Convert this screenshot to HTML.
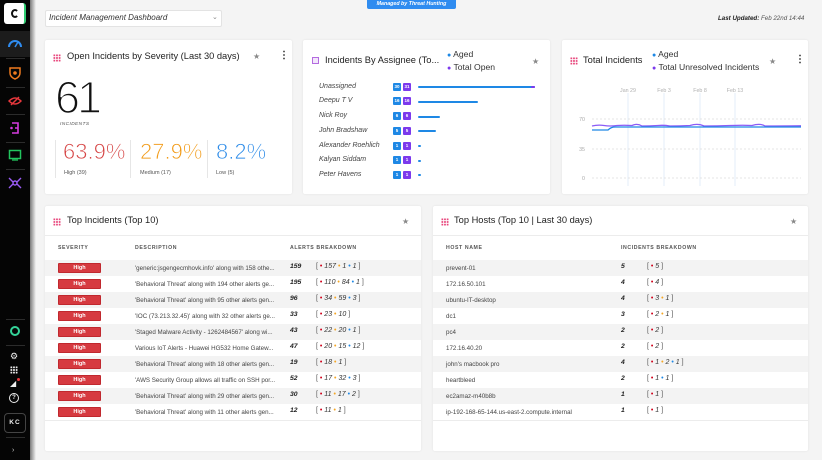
<!DOCTYPE html>
<html><head><meta charset="utf-8">
<style>
*{margin:0;padding:0;box-sizing:border-box}
html,body{width:822px;height:460px;overflow:hidden;background:#f4f4f4;font-family:"Liberation Sans",sans-serif;color:#333}
.a{position:absolute;white-space:nowrap}
.card{position:absolute;background:#fff;border-radius:2px;box-shadow:0 0 2px rgba(0,0,0,0.08)}
.sb{position:absolute;left:0;top:0;width:30px;height:460px;background:#050505}
.sbsh{position:absolute;left:30px;top:0;width:6px;height:460px;background:linear-gradient(to right,#7a7a7a,#f4f4f4)}
.sep{position:absolute;left:6px;width:19px;height:1px;background:#2c2c2c}
.title{font-size:9.3px;color:#222}
.grid{position:absolute;width:8px;height:8px;background-image:radial-gradient(circle,#e8467c 0.9px,transparent 1.1px);background-size:2.67px 2.67px}
.star{font-size:8px;color:#888}
.kebab{font-size:10px;font-weight:bold;color:#222}
.hdr{font-size:5.2px;font-weight:bold;color:#555;letter-spacing:0.6px}
.row{position:absolute;height:16px}
.g{background:#f3f3f3}
.badge{position:absolute;width:43px;height:10px;background:#d63a40;border:1px solid #c0282e;color:#fff;font-size:5.5px;font-weight:bold;text-align:center;line-height:8px;border-radius:1px}
.t{font-size:6.2px;color:#444}
.n{font-size:6.8px;font-weight:bold;font-style:italic;color:#222}
.bk{font-size:7px;font-style:italic;color:#333}
.bk b{font-weight:normal;color:#555;font-style:normal}
.dr,.do,.db{font-size:7px;font-style:normal}
.dr{color:#d0021b}.do{color:#f5a623}.db{color:#1e88e5}
.nm{font-size:7px;font-style:italic;color:#444}
.bb,.bp{position:absolute;width:8px;height:8px;color:#fff;font-size:4.5px;font-weight:bold;text-align:center;line-height:8px;border-radius:1px}
.bb{background:#1e88e5}.bp{background:#7c3aed}
.bar{position:absolute;height:2px;background:#1e88e5;border-radius:1px}
.leg{font-size:8.6px;color:#333}
.thin{-webkit-text-stroke:1.6px #fff}
.thin2{-webkit-text-stroke:0.7px #fff}
</style></head><body>

<!-- sidebar -->
<div class="sb"></div>
<div class="sbsh"></div>
<div class="a" style="left:4px;top:3px;width:22px;height:21px;background:#fff;border-radius:3px;border-right:2px solid #2ecc71"></div>
<div class="a" style="left:11px;top:9px;width:8px;height:9px;border:2px solid #111;border-radius:50%;border-right-color:transparent"></div>
<div class="a" style="left:0;top:31px;width:30px;height:26px;background:#1c1c1c"></div>
<svg class="a" style="left:7px;top:37px" width="16" height="12" viewBox="0 0 16 12"><path d="M2 10 A6 6 0 0 1 14 10" fill="none" stroke="#2f8cf0" stroke-width="2"/><path d="M8 10 L11 5" stroke="#2f8cf0" stroke-width="1.5"/></svg>
<div class="sep" style="top:58px"></div>
<svg class="a" style="left:9px;top:67px" width="12" height="13" viewBox="0 0 12 13"><path d="M1 1 L11 1 L11 6 Q11 10 6 12 Q1 10 1 6 Z" fill="none" stroke="#f07b1e" stroke-width="1.5"/><circle cx="6" cy="6" r="1.8" fill="#f07b1e"/></svg>
<div class="sep" style="top:87px"></div>
<svg class="a" style="left:8px;top:95px" width="14" height="12" viewBox="0 0 14 12"><path d="M1 6 Q7 0 13 6 Q7 12 1 6Z" fill="none" stroke="#e8383d" stroke-width="1.5"/><path d="M3 10 L11 2" stroke="#e8383d" stroke-width="1.5"/></svg>
<div class="sep" style="top:114px"></div>
<svg class="a" style="left:9px;top:121px" width="12" height="14" viewBox="0 0 12 14"><path d="M3 2 H9 V12 H3 M6 7 H9" fill="none" stroke="#d63ce0" stroke-width="1.6"/><circle cx="2.5" cy="7" r="1.3" fill="#d63ce0"/></svg>
<div class="sep" style="top:142px"></div>
<svg class="a" style="left:8px;top:149px" width="14" height="12" viewBox="0 0 14 12"><rect x="1.5" y="1.5" width="11" height="8" fill="none" stroke="#22c55e" stroke-width="1.5"/><path d="M4 11 H10" stroke="#22c55e" stroke-width="1.3"/></svg>
<div class="sep" style="top:169px"></div>
<svg class="a" style="left:8px;top:177px" width="14" height="12" viewBox="0 0 14 12"><circle cx="7" cy="6" r="2" fill="none" stroke="#9b5cf6" stroke-width="1.4"/><path d="M1 1 L5 5 M13 1 L9 5 M1 11 L5 7 M13 11 L9 7" stroke="#9b5cf6" stroke-width="1.4"/></svg>
<div class="sep" style="top:319px"></div>
<div class="a" style="left:10px;top:326px;width:10px;height:10px;border:2px solid #34d399;border-radius:50%"></div>
<div class="sep" style="top:345px"></div>
<div class="a" style="left:10px;top:352px;width:9px;height:9px;color:#eee;font-size:9px;line-height:9px">⚙</div>
<div class="a" style="left:10px;top:366px;width:8px;height:8px;background-image:radial-gradient(circle,#eee 0.9px,transparent 1.1px);background-size:2.67px 2.67px"></div>
<div class="a" style="left:10px;top:379px;color:#eee;font-size:8px;line-height:9px">◢</div>
<div class="a" style="left:17px;top:378px;width:3px;height:3px;background:#e8383d;border-radius:50%"></div>
<div class="a" style="left:9px;top:393px;width:10px;height:10px;border:1.3px solid #eee;border-radius:50%;color:#eee;font-size:6px;font-weight:bold;text-align:center;line-height:8px">?</div>
<div class="a" style="left:4px;top:413px;width:22px;height:20px;border:1px solid #444;border-radius:4px;color:#eee;font-size:6.5px;font-weight:bold;text-align:center;line-height:18px;letter-spacing:1px">KC</div>
<div class="sep" style="top:437px"></div>
<div class="a" style="left:12px;top:447px;color:#ccc;font-size:7px">›</div>

<!-- header -->
<div class="a" style="left:45px;top:10px;width:177px;height:17px;background:#fff;border:1px solid #e3e3e3;border-radius:2px"></div>
<div class="a" style="left:49px;top:13px;font-size:8px;font-style:italic;color:#333">Incident Management Dashboard</div>
<div class="a" style="left:212px;top:13px;font-size:7px;color:#888">⌄</div>
<div class="a" style="left:367px;top:0;width:89px;height:9px;background:#2f8cf0;border-radius:0 0 2px 2px;color:#fff;font-size:5.3px;font-weight:bold;font-style:italic;text-align:center;line-height:8px">Managed by Threat Hunting</div>
<div class="a" style="left:718px;top:15px;font-size:6.2px;font-style:italic;color:#555"><b style="color:#222">Last Updated:</b> Feb 22nd 14:44</div>

<!-- card 1 -->
<div class="card" style="left:45px;top:40px;width:247px;height:154px"></div>
<div class="grid" style="left:53px;top:54px"></div>
<div class="a title" style="left:67px;top:51px">Open Incidents by Severity (Last 30 days)</div>
<div class="a star" style="left:253px;top:52px">★</div>
<div class="a kebab" style="left:279px;top:50px">⋮</div>
<div class="a thin" style="left:55px;top:72px;font-size:45px;color:#111;letter-spacing:-3px">61</div>
<div class="a" style="left:60px;top:122px;font-size:4.8px;font-style:italic;color:#555;letter-spacing:0.4px">INCIDENTS</div>
<div class="a" style="left:55px;top:140px;width:1px;height:38px;background:#e6e6e6"></div>
<div class="a" style="left:130px;top:140px;width:1px;height:38px;background:#e6e6e6"></div>
<div class="a" style="left:207px;top:140px;width:1px;height:38px;background:#e6e6e6"></div>
<div class="a thin2" style="left:63px;top:139px;font-size:22px;color:#d64545">63.9%</div>
<div class="a thin2" style="left:140px;top:139px;font-size:22px;color:#f29b18">27.9%</div>
<div class="a thin2" style="left:216px;top:139px;font-size:22px;color:#2a8ae8">8.2%</div>
<div class="a" style="left:64px;top:170px;font-size:5.5px;color:#555">High (39)</div>
<div class="a" style="left:140px;top:170px;font-size:5.5px;color:#555">Medium (17)</div>
<div class="a" style="left:216px;top:170px;font-size:5.5px;color:#555">Low (5)</div>

<!-- card 2 -->
<div class="card" style="left:303px;top:40px;width:247px;height:154px"></div>
<div class="a" style="left:312px;top:57px;width:7px;height:7px;border:1px solid #b46be0;background:#f3e6fb"></div>
<div class="a title" style="left:325px;top:55px">Incidents By Assignee (To...</div>
<div class="a leg" style="left:447px;top:49px"><span style="color:#1e88e5;font-size:7px">●</span> Aged</div>
<div class="a leg" style="left:447px;top:62px"><span style="color:#7c3aed;font-size:7px">●</span> Total Open</div>
<div class="a star" style="left:532px;top:57px">★</div>

<div class="a nm" style="left:319px;top:83px">Unassigned</div>
<div class="a nm" style="left:319px;top:97px">Deepu T V</div>
<div class="a nm" style="left:319px;top:112px">Nick Roy</div>
<div class="a nm" style="left:319px;top:127px">John Bradshaw</div>
<div class="a nm" style="left:319px;top:142px">Alexander Roehlich</div>
<div class="a nm" style="left:319px;top:156px">Kalyan Siddam</div>
<div class="a nm" style="left:319px;top:171px">Peter Havens</div>

<div class="bb" style="left:393px;top:83px">30</div><div class="bp" style="left:403px;top:83px">31</div>
<div class="bb" style="left:393px;top:97px">16</div><div class="bp" style="left:403px;top:97px">16</div>
<div class="bb" style="left:393px;top:112px">6</div><div class="bp" style="left:403px;top:112px">6</div>
<div class="bb" style="left:393px;top:127px">5</div><div class="bp" style="left:403px;top:127px">5</div>
<div class="bb" style="left:393px;top:142px">1</div><div class="bp" style="left:403px;top:142px">1</div>
<div class="bb" style="left:393px;top:156px">1</div><div class="bp" style="left:403px;top:156px">1</div>
<div class="bb" style="left:393px;top:171px">1</div><div class="bp" style="left:403px;top:171px">1</div>

<div class="bar" style="left:418px;top:86px;width:117px"></div>
<div class="bar" style="left:531px;top:86px;width:4px;background:#7c3aed"></div>
<div class="bar" style="left:418px;top:101px;width:60px"></div>
<div class="bar" style="left:418px;top:116px;width:22px"></div>
<div class="bar" style="left:418px;top:130px;width:18px"></div>
<div class="bar" style="left:418px;top:145px;width:3px"></div>
<div class="bar" style="left:418px;top:160px;width:3px"></div>
<div class="bar" style="left:418px;top:174px;width:3px"></div>

<!-- card 3 -->
<div class="card" style="left:562px;top:40px;width:246px;height:154px"></div>
<div class="grid" style="left:570px;top:57px"></div>
<div class="a title" style="left:583px;top:55px">Total Incidents</div>
<div class="a leg" style="left:652px;top:49px"><span style="color:#1e88e5;font-size:7px">●</span> Aged</div>
<div class="a leg" style="left:652px;top:62px"><span style="color:#7c3aed;font-size:7px">●</span> Total Unresolved Incidents</div>
<div class="a star" style="left:769px;top:57px">★</div>
<div class="a kebab" style="left:795px;top:54px">⋮</div>
<svg class="a" style="left:562px;top:40px" width="246" height="154" viewBox="0 0 246 154">
<g stroke="#e3edf9" stroke-width="1">
<line x1="66" y1="53" x2="66" y2="146"/><line x1="102" y1="53" x2="102" y2="146"/>
<line x1="138" y1="53" x2="138" y2="146"/><line x1="173" y1="53" x2="173" y2="146"/>
</g>
<g font-family="Liberation Sans" font-size="5.3" fill="#b0b0b0" text-anchor="middle">
<text x="66" y="52">Jan 29</text><text x="102" y="52">Feb 3</text><text x="138" y="52">Feb 8</text><text x="173" y="52">Feb 13</text>
</g>
<g stroke="#dcdcdc" stroke-width="0.8" stroke-dasharray="2,2">
<line x1="30" y1="79" x2="239" y2="79"/><line x1="30" y1="109" x2="239" y2="109"/><line x1="30" y1="138" x2="239" y2="138"/>
</g>
<g font-family="Liberation Sans" font-size="5.3" fill="#aaa" text-anchor="end">
<text x="23" y="81">70</text><text x="23" y="111">35</text><text x="23" y="140">0</text>
</g>
<path d="M30 86 Q36 84.5 42 85.5 Q48 86.5 55 85.5 Q62 85 70 85.5 Q75 83 80 86 Q88 86 96 85.5 Q102 85 108 86 Q118 86 128 85.5 Q136 83 142 86 Q155 86 168 85.5 Q182 85 190 85.5 Q198 83 203 86 Q220 86 239 85.8" fill="none" stroke="#8b5cf6" stroke-width="1.3"/>
<path d="M30 90 L46 90 Q49 87 53 87 L239 87" fill="none" stroke="#1e88e5" stroke-width="1.3"/>
</svg>

<!-- card 4 -->
<div class="card" style="left:45px;top:206px;width:376px;height:245px"></div>
<div class="grid" style="left:53px;top:218px"></div>
<div class="a title" style="left:67px;top:215px">Top Incidents (Top 10)</div>
<div class="a star" style="left:402px;top:217px">★</div>
<div class="a" style="left:45px;top:235px;width:376px;height:1px;background:#ececec"></div>
<div class="a hdr" style="left:58px;top:245px">SEVERITY</div>
<div class="a hdr" style="left:135px;top:245px">DESCRIPTION</div>
<div class="a hdr" style="left:290px;top:245px">ALERTS BREAKDOWN</div>

<div class="row g" style="left:45px;top:260px;width:376px"></div>
<div class="row g" style="left:45px;top:292px;width:376px"></div>
<div class="row g" style="left:45px;top:324px;width:376px"></div>
<div class="row g" style="left:45px;top:356px;width:376px"></div>
<div class="row g" style="left:45px;top:388px;width:376px"></div>
<div class="a" style="left:45px;top:420px;width:376px;height:1px;background:#ececec"></div>

<div class="badge" style="left:58px;top:263px">High</div>
<div class="badge" style="left:58px;top:279px">High</div>
<div class="badge" style="left:58px;top:295px">High</div>
<div class="badge" style="left:58px;top:311px">High</div>
<div class="badge" style="left:58px;top:327px">High</div>
<div class="badge" style="left:58px;top:343px">High</div>
<div class="badge" style="left:58px;top:359px">High</div>
<div class="badge" style="left:58px;top:375px">High</div>
<div class="badge" style="left:58px;top:391px">High</div>
<div class="badge" style="left:58px;top:407px">High</div>

<div class="a t" style="left:135px;top:265px">'generic:jsgengecmhovk.info' along with 158 othe...</div>
<div class="a t" style="left:135px;top:281px">'Behavioral Threat' along with 194 other alerts ge...</div>
<div class="a t" style="left:135px;top:297px">'Behavioral Threat' along with 95 other alerts gen...</div>
<div class="a t" style="left:135px;top:313px">'IOC (73.213.32.45)' along with 32 other alerts ge...</div>
<div class="a t" style="left:135px;top:329px">'Staged Malware Activity - 1262484567' along wi...</div>
<div class="a t" style="left:135px;top:345px">Various IoT Alerts - Huawei HG532 Home Gatew...</div>
<div class="a t" style="left:135px;top:361px">'Behavioral Threat' along with 18 other alerts gen...</div>
<div class="a t" style="left:135px;top:377px">'AWS Security Group allows all traffic on SSH por...</div>
<div class="a t" style="left:135px;top:393px">'Behavioral Threat' along with 29 other alerts gen...</div>
<div class="a t" style="left:135px;top:409px">'Behavioral Threat' along with 11 other alerts gen...</div>

<div class="a n" style="left:290px;top:263px">159</div>
<div class="a n" style="left:290px;top:279px">195</div>
<div class="a n" style="left:290px;top:295px">96</div>
<div class="a n" style="left:290px;top:311px">33</div>
<div class="a n" style="left:290px;top:327px">43</div>
<div class="a n" style="left:290px;top:343px">47</div>
<div class="a n" style="left:290px;top:359px">19</div>
<div class="a n" style="left:290px;top:375px">52</div>
<div class="a n" style="left:290px;top:391px">30</div>
<div class="a n" style="left:290px;top:407px">12</div>

<div class="a bk" style="left:316px;top:263px"><b>[</b> <span class="dr">•</span> 157 <span class="do">•</span> 1 <span class="db">•</span> 1 <b>]</b></div>
<div class="a bk" style="left:316px;top:279px"><b>[</b> <span class="dr">•</span> 110 <span class="do">•</span> 84 <span class="db">•</span> 1 <b>]</b></div>
<div class="a bk" style="left:316px;top:295px"><b>[</b> <span class="dr">•</span> 34 <span class="do">•</span> 59 <span class="db">•</span> 3 <b>]</b></div>
<div class="a bk" style="left:316px;top:311px"><b>[</b> <span class="dr">•</span> 23 <span class="do">•</span> 10 <b>]</b></div>
<div class="a bk" style="left:316px;top:327px"><b>[</b> <span class="dr">•</span> 22 <span class="do">•</span> 20 <span class="db">•</span> 1 <b>]</b></div>
<div class="a bk" style="left:316px;top:343px"><b>[</b> <span class="dr">•</span> 20 <span class="do">•</span> 15 <span class="db">•</span> 12 <b>]</b></div>
<div class="a bk" style="left:316px;top:359px"><b>[</b> <span class="dr">•</span> 18 <span class="do">•</span> 1 <b>]</b></div>
<div class="a bk" style="left:316px;top:375px"><b>[</b> <span class="dr">•</span> 17 <span class="do">•</span> 32 <span class="db">•</span> 3 <b>]</b></div>
<div class="a bk" style="left:316px;top:391px"><b>[</b> <span class="dr">•</span> 11 <span class="do">•</span> 17 <span class="db">•</span> 2 <b>]</b></div>
<div class="a bk" style="left:316px;top:407px"><b>[</b> <span class="dr">•</span> 11 <span class="do">•</span> 1 <b>]</b></div>

<!-- card 5 -->
<div class="card" style="left:433px;top:206px;width:375px;height:245px"></div>
<div class="grid" style="left:441px;top:218px"></div>
<div class="a title" style="left:454px;top:215px">Top Hosts (Top 10 | Last 30 days)</div>
<div class="a star" style="left:790px;top:217px">★</div>
<div class="a" style="left:433px;top:235px;width:375px;height:1px;background:#ececec"></div>
<div class="a hdr" style="left:446px;top:245px">HOST NAME</div>
<div class="a hdr" style="left:621px;top:245px">INCIDENTS BREAKDOWN</div>

<div class="row g" style="left:433px;top:260px;width:375px"></div>
<div class="row g" style="left:433px;top:292px;width:375px"></div>
<div class="row g" style="left:433px;top:324px;width:375px"></div>
<div class="row g" style="left:433px;top:356px;width:375px"></div>
<div class="row g" style="left:433px;top:388px;width:375px"></div>
<div class="a" style="left:433px;top:420px;width:375px;height:1px;background:#ececec"></div>

<div class="a t" style="left:446px;top:265px">prevent-01</div>
<div class="a t" style="left:446px;top:281px">172.16.50.101</div>
<div class="a t" style="left:446px;top:297px">ubuntu-IT-desktop</div>
<div class="a t" style="left:446px;top:313px">dc1</div>
<div class="a t" style="left:446px;top:329px">pc4</div>
<div class="a t" style="left:446px;top:345px">172.16.40.20</div>
<div class="a t" style="left:446px;top:361px">john's macbook pro</div>
<div class="a t" style="left:446px;top:377px">heartbleed</div>
<div class="a t" style="left:446px;top:393px">ec2amaz-m40b8b</div>
<div class="a t" style="left:446px;top:409px">ip-192-168-65-144.us-east-2.compute.internal</div>

<div class="a n" style="left:621px;top:263px">5</div>
<div class="a n" style="left:621px;top:279px">4</div>
<div class="a n" style="left:621px;top:295px">4</div>
<div class="a n" style="left:621px;top:311px">3</div>
<div class="a n" style="left:621px;top:327px">2</div>
<div class="a n" style="left:621px;top:343px">2</div>
<div class="a n" style="left:621px;top:359px">4</div>
<div class="a n" style="left:621px;top:375px">2</div>
<div class="a n" style="left:621px;top:391px">1</div>
<div class="a n" style="left:621px;top:407px">1</div>

<div class="a bk" style="left:647px;top:263px"><b>[</b> <span class="dr">•</span> 5 <b>]</b></div>
<div class="a bk" style="left:647px;top:279px"><b>[</b> <span class="dr">•</span> 4 <b>]</b></div>
<div class="a bk" style="left:647px;top:295px"><b>[</b> <span class="dr">•</span> 3 <span class="do">•</span> 1 <b>]</b></div>
<div class="a bk" style="left:647px;top:311px"><b>[</b> <span class="dr">•</span> 2 <span class="do">•</span> 1 <b>]</b></div>
<div class="a bk" style="left:647px;top:327px"><b>[</b> <span class="dr">•</span> 2 <b>]</b></div>
<div class="a bk" style="left:647px;top:343px"><b>[</b> <span class="dr">•</span> 2 <b>]</b></div>
<div class="a bk" style="left:647px;top:359px"><b>[</b> <span class="dr">•</span> 1 <span class="do">•</span> 2 <span class="db">•</span> 1 <b>]</b></div>
<div class="a bk" style="left:647px;top:375px"><b>[</b> <span class="dr">•</span> 1 <span class="db">•</span> 1 <b>]</b></div>
<div class="a bk" style="left:647px;top:391px"><b>[</b> <span class="dr">•</span> 1 <b>]</b></div>
<div class="a bk" style="left:647px;top:407px"><b>[</b> <span class="dr">•</span> 1 <b>]</b></div>

</body></html>
